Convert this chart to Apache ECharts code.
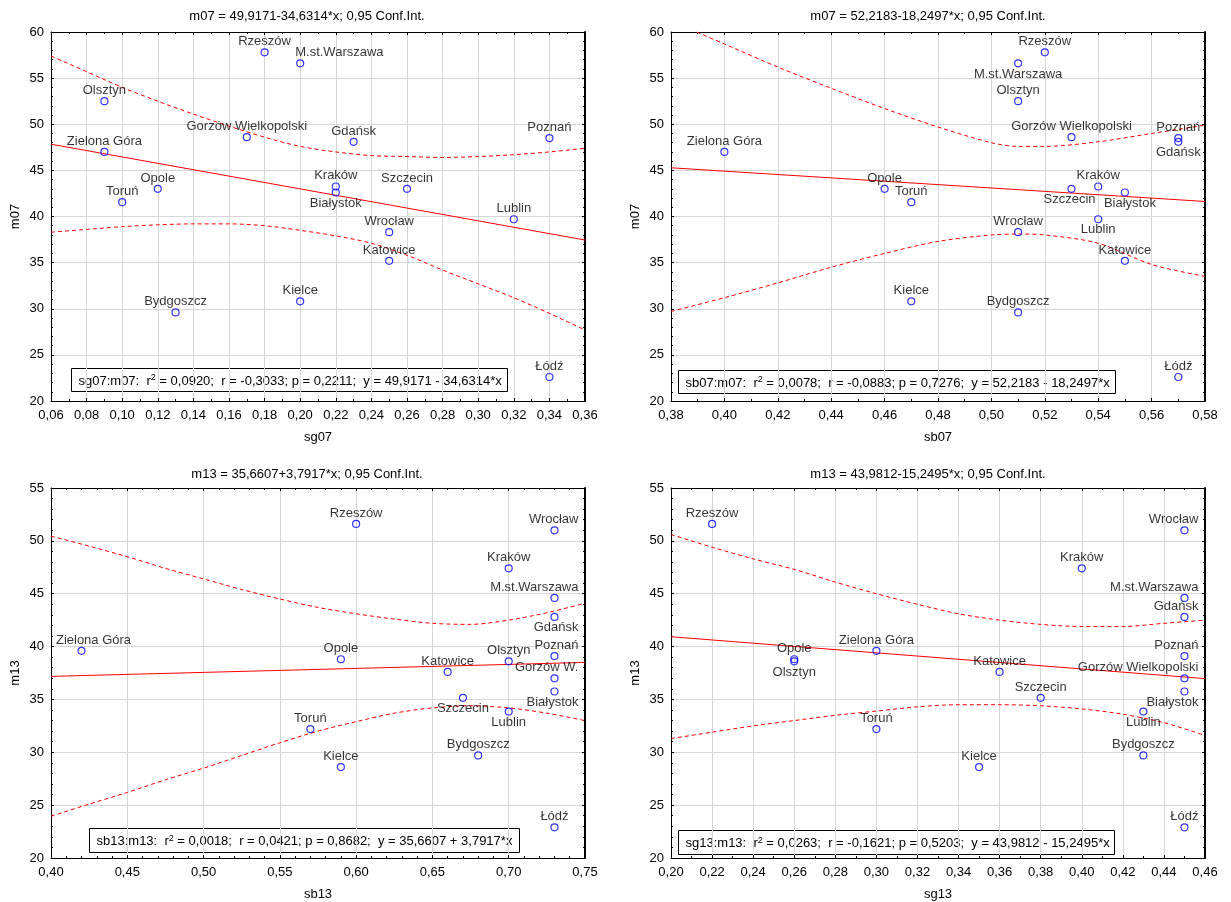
<!DOCTYPE html>
<html>
<head>
<meta charset="utf-8">
<title>m07 / m13</title>
<script src="https://cdn.jsdelivr.net/npm/echarts@6/dist/echarts.min.js"></script>
<style>
html,body{margin:0;padding:0;background:#fff}
#main{width:1231px;height:902px}
</style>
</head>
<body>
<div id="main"></div>
<script>
// dane
var cities = ['Rzeszów', 'M.st.Warszawa', 'Olsztyn', 'Gorzów Wielkopolski', 'Gdańsk', 'Zielona Góra',
  'Poznań', 'Kraków', 'Białystok', 'Opole', 'Szczecin', 'Toruń', 'Lublin', 'Wrocław', 'Katowice',
  'Kielce', 'Bydgoszcz', 'Łódź'];

var m07  = [57.8, 56.6, 52.5, 48.6, 48.1, 47.0, 48.5, 43.25, 42.6, 43.0, 43.0, 41.55, 39.7, 38.3, 35.2, 30.8, 29.6, 22.6];
var sg07 = [0.18, 0.20, 0.09, 0.17, 0.23, 0.09, 0.34, 0.22, 0.22, 0.12, 0.26, 0.10, 0.32, 0.25, 0.25, 0.20, 0.13, 0.34];
var sb07 = [0.52, 0.51, 0.51, 0.53, 0.57, 0.40, 0.57, 0.54, 0.55, 0.46, 0.53, 0.47, 0.54, 0.51, 0.55, 0.47, 0.51, 0.57];

var m13  = [51.6, 44.6, 38.6, 37.0, 42.8, 39.6, 39.1, 47.4, 35.75, 38.8, 35.15, 32.2, 33.85, 51.0, 37.6, 28.6, 29.7, 22.9];
var sb13 = [0.60, 0.73, 0.70, 0.73, 0.73, 0.42, 0.73, 0.70, 0.73, 0.59, 0.67, 0.57, 0.70, 0.73, 0.66, 0.59, 0.68, 0.73];
var sg13 = [0.22, 0.45, 0.26, 0.45, 0.45, 0.30, 0.45, 0.40, 0.45, 0.26, 0.38, 0.30, 0.43, 0.45, 0.36, 0.35, 0.43, 0.45];

// linie regresji (wartości na krańcach osi X)
var fitX1 = [0.06, 0.36], fitY1 = [47.84, 37.45];
var fitX2 = [0.38, 0.58], fitY2 = [45.28, 41.63];
var fitX3 = [0.40, 0.75], fitY3 = [37.18, 38.50];
var fitX4 = [0.20, 0.46], fitY4 = [40.93, 36.97];

// przedziały ufności 0,95
var bandX1  = [0.06, 0.08, 0.10, 0.12, 0.14, 0.16, 0.18, 0.20, 0.22, 0.24, 0.26, 0.28, 0.30, 0.32, 0.34, 0.36];
var upper1  = [57.4, 55.7, 54.0, 52.5, 51.1, 49.8, 48.6, 47.6, 47.0, 46.6, 46.5, 46.4, 46.5, 46.7, 47.0, 47.4];
var lower1  = [38.3, 38.6, 38.9, 39.1, 39.2, 39.2, 39.0, 38.5, 37.9, 37.1, 35.8, 34.2, 32.7, 31.2, 29.5, 27.7];

var bandX2  = [0.38, 0.40, 0.42, 0.44, 0.46, 0.48, 0.50, 0.51, 0.52, 0.54, 0.56, 0.58];
var upper2  = [61.2, 58.7, 56.2, 53.9, 51.7, 49.7, 48.0, 47.6, 47.6, 48.1, 49.0, 49.9];
var lower2  = [29.7, 31.2, 32.8, 34.5, 36.0, 37.3, 38.0, 38.1, 38.0, 37.1, 34.8, 33.5];

var bandX3  = [0.40, 0.425, 0.45, 0.475, 0.50, 0.525, 0.55, 0.575, 0.60, 0.625, 0.65, 0.675, 0.70, 0.725, 0.75];
var upper3  = [50.45, 49.5, 48.5, 47.4, 46.4, 45.4, 44.5, 43.7, 43.1, 42.6, 42.2, 42.1, 42.5, 43.2, 44.1];
var lower3  = [23.95, 25.1, 26.2, 27.4, 28.5, 29.7, 30.9, 32.0, 32.9, 33.7, 34.2, 34.4, 34.2, 33.7, 33.0];

var bandX4  = [0.20, 0.22, 0.24, 0.26, 0.28, 0.30, 0.32, 0.34, 0.36, 0.38, 0.40, 0.42, 0.44, 0.46];
var upper4  = [50.6, 49.4, 48.3, 47.3, 46.1, 45.0, 44.0, 43.1, 42.5, 42.1, 41.9, 41.9, 42.2, 42.5];
var lower4  = [31.3, 31.9, 32.5, 33.0, 33.5, 33.9, 34.3, 34.5, 34.5, 34.4, 34.1, 33.6, 32.8, 31.6];

var myChart = echarts.init(document.getElementById('main'));

var FONT = '"Liberation Sans", Arial, sans-serif';

// rozmieszczenie wykresów
var grids = [
  {left: 51, top: 32, width: 534, height: 369},
  {left: 671, top: 32, width: 534, height: 369},
  {left: 51, top: 488, width: 534, height: 370},
  {left: 671, top: 488, width: 534, height: 370}
];

// położenie etykiet miast: [pozycja, wyrównanie, przesunięcie x]
var labs = [
  {'Białystok': ['bottom', 'center', 0], 'M.st.Warszawa': ['top', 'left', -5]},
  {'M.st.Warszawa': ['bottom', 'center', 0], 'Gdańsk': ['bottom', 'center', 0], 'Szczecin': ['bottom', 'center', -2],
   'Białystok': ['bottom', 'center', 5], 'Lublin': ['bottom', 'center', 0]},
  {'Zielona Góra': ['top', 'center', 12], 'M.st.Warszawa': ['top', 'right', 24], 'Gdańsk': ['bottom', 'right', 24],
   'Poznań': ['top', 'right', 24], 'Gorzów Wielkopolski': ['top', 'right', 24], 'Białystok': ['bottom', 'right', 24],
   'Wrocław': ['top', 'right', 24], 'Szczecin': ['bottom', 'center', 0], 'Lublin': ['bottom', 'center', 0]},
  {'Wrocław': ['top', 'right', 14], 'M.st.Warszawa': ['top', 'right', 14], 'Gdańsk': ['top', 'right', 14],
   'Poznań': ['top', 'right', 14], 'Gorzów Wielkopolski': ['top', 'right', 14], 'Białystok': ['bottom', 'right', 14],
   'Olsztyn': ['bottom', 'center', 0], 'Lublin': ['bottom', 'center', 0]}
];
var shortNames = [{}, {}, {'Gorzów Wielkopolski': 'Gorzów W.'}, {}];

function fmt(v) {
  return v.toFixed(2).replace('.', ',');
}

function xAxis(gi, min, max, step, name, minor, top) {
  return {
    type: 'value', gridIndex: gi, min: min, max: max, interval: step,
    position: top ? 'top' : 'bottom',
    name: top ? '' : name, nameLocation: 'middle', nameGap: 30,
    nameTextStyle: {color: '#000', fontSize: 13, fontFamily: FONT},
    axisLine: {show: true, onZero: false, lineStyle: {color: '#000', width: 1}},
    axisTick: {show: true, inside: true, length: 3, lineStyle: {color: '#000'}},
    minorTick: {show: true, splitNumber: minor, length: 2, lineStyle: {color: '#000'}},
    axisLabel: {show: !top, color: '#000', fontSize: 13, fontFamily: FONT, margin: 8, formatter: fmt},
    splitLine: {show: !top, lineStyle: {color: '#d6d6d6', width: 1}}
  };
}

function yAxis(gi, min, max, name, right) {
  return {
    type: 'value', gridIndex: gi, min: min, max: max, interval: 5,
    position: right ? 'right' : 'left',
    name: right ? '' : name, nameLocation: 'middle', nameGap: 29,
    nameTextStyle: {color: '#000', fontSize: 13, fontFamily: FONT},
    axisLine: {show: true, onZero: false, lineStyle: {color: '#000', width: right ? 2 : 1}},
    axisTick: {show: true, inside: true, length: 3, lineStyle: {color: '#000'}},
    minorTick: {show: true, splitNumber: 5, length: 2, lineStyle: {color: '#000'}},
    axisLabel: {show: !right, color: '#000', fontSize: 13, fontFamily: FONT, margin: 7},
    splitLine: {show: !right, lineStyle: {color: '#d6d6d6', width: 1}}
  };
}

function pts(gi, xs, ys) {
  var out = [];
  for (var i = 0; i < cities.length; i++) {
    var c = cities[i];
    var l = labs[gi][c] || ['top', 'center', 0];
    out.push({
      value: [xs[i], ys[i]],
      name: c,
      label: {
        show: true,
        formatter: shortNames[gi][c] || c,
        position: l[0], align: l[1], offset: [l[2], 0], distance: 0
      }
    });
  }
  return {
    type: 'scatter', xAxisIndex: gi, yAxisIndex: gi, data: out, z: 5,
    symbol: 'circle', symbolSize: 7,
    itemStyle: {color: 'rgba(0,0,0,0)', borderColor: '#0000ff', borderWidth: 1.2},
    label: {color: '#000', fontSize: 13, fontFamily: FONT},
    emphasis: {disabled: true}
  };
}

function pairs(xs, ys) {
  var out = [];
  for (var i = 0; i < xs.length; i++) out.push([xs[i], ys[i]]);
  return out;
}

function lineS(gi, xs, ys, dashed) {
  return {
    type: 'line', xAxisIndex: gi, yAxisIndex: gi, data: pairs(xs, ys),
    showSymbol: false, symbol: 'none', smooth: dashed ? 0.3 : false, clip: true, z: 3,
    lineStyle: {color: '#ff0000', width: 1, type: dashed ? [4, 3] : 'solid'},
    emphasis: {disabled: true}, silent: true
  };
}

function statBox(left, top, w, h, txt) {
  return {
    type: 'group', left: left, top: top, z: 10,
    children: [
      {type: 'rect', shape: {x: 0, y: 0, width: w, height: h},
       style: {fill: '#fff', stroke: '#000', lineWidth: 1}},
      {type: 'text', x: 7, y: h / 2 + 1,
       style: {text: txt, fill: '#000', fontSize: 13, fontFamily: FONT, verticalAlign: 'middle',
               rich: {s: {fontSize: 9, verticalAlign: 'top', padding: [0, 0, 6, 0], fontFamily: FONT}}}}
    ]
  };
}

var titleStyle = {color: '#000', fontSize: 13, fontWeight: 'normal', fontFamily: FONT};

option = {
  backgroundColor: '#fff',
  animation: false,
  title: [
    {text: 'm07 = 49,9171-34,6314*x; 0,95 Conf.Int.', left: 302, top: 5, textAlign: 'center', textStyle: titleStyle},
    {text: 'm07 = 52,2183-18,2497*x; 0,95 Conf.Int.', left: 923, top: 5, textAlign: 'center', textStyle: titleStyle},
    {text: 'm13 = 35,6607+3,7917*x; 0,95 Conf.Int.', left: 302, top: 463, textAlign: 'center', textStyle: titleStyle},
    {text: 'm13 = 43,9812-15,2495*x; 0,95 Conf.Int.', left: 923, top: 463, textAlign: 'center', textStyle: titleStyle}
  ],
  grid: grids,
  xAxis: [
    xAxis(0, 0.06, 0.36, 0.02, 'sg07', 2, false),
    xAxis(1, 0.38, 0.58, 0.02, 'sb07', 2, false),
    xAxis(2, 0.40, 0.75, 0.05, 'sb13', 5, false),
    xAxis(3, 0.20, 0.46, 0.02, 'sg13', 2, false),
    xAxis(0, 0.06, 0.36, 0.02, '', 2, true),
    xAxis(1, 0.38, 0.58, 0.02, '', 2, true),
    xAxis(2, 0.40, 0.75, 0.05, '', 5, true),
    xAxis(3, 0.20, 0.46, 0.02, '', 2, true)
  ],
  yAxis: [
    yAxis(0, 20, 60, 'm07', false),
    yAxis(1, 20, 60, 'm07', false),
    yAxis(2, 20, 55, 'm13', false),
    yAxis(3, 20, 55, 'm13', false),
    yAxis(0, 20, 60, '', true),
    yAxis(1, 20, 60, '', true),
    yAxis(2, 20, 55, '', true),
    yAxis(3, 20, 55, '', true)
  ],
  series: [
    lineS(0, fitX1, fitY1, false), lineS(0, bandX1, upper1, true), lineS(0, bandX1, lower1, true), pts(0, sg07, m07),
    lineS(1, fitX2, fitY2, false), lineS(1, bandX2, upper2, true), lineS(1, bandX2, lower2, true), pts(1, sb07, m07),
    lineS(2, fitX3, fitY3, false), lineS(2, bandX3, upper3, true), lineS(2, bandX3, lower3, true), pts(2, sb13, m13),
    lineS(3, fitX4, fitY4, false), lineS(3, bandX4, upper4, true), lineS(3, bandX4, lower4, true), pts(3, sg13, m13)
  ],
  graphic: [
    statBox(71, 368, 436, 23, 'sg07:m07:  r{s|2} = 0,0920;  r = -0,3033; p = 0,2211;  y = 49,9171 - 34,6314*x'),
    statBox(678, 370, 437, 23, 'sb07:m07:  r{s|2} = 0,0078;  r = -0,0883; p = 0,7276;  y = 52,2183 - 18,2497*x'),
    statBox(89, 828, 430, 24, 'sb13:m13:  r{s|2} = 0,0018;  r = 0,0421; p = 0,8682;  y = 35,6607 + 3,7917*x'),
    statBox(678, 830, 436, 24, 'sg13:m13:  r{s|2} = 0,0263;  r = -0,1621; p = 0,5203;  y = 43,9812 - 15,2495*x')
  ]
};

myChart.setOption(option);
</script>
</body>
</html>
